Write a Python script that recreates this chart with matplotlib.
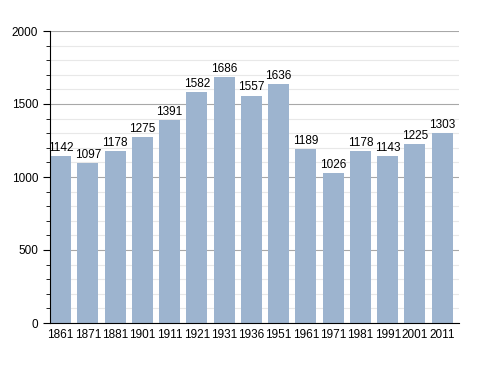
import matplotlib
matplotlib.use('Agg')
import matplotlib.pyplot as plt
import numpy as np

years = ['1861', '1871', '1881', '1901', '1911', '1921', '1931', '1936',
         '1951', '1961', '1971', '1981', '1991', '2001', '2011']
population = [1142, 1097, 1178, 1275, 1391, 1582, 1686, 1557,
              1636, 1189, 1026, 1178, 1143, 1225, 1303]

plt.rcParams['font.family'] = 'Liberation Sans'

fig = plt.figure(figsize=(4.88, 3.73), dpi=100)
ax = fig.add_axes([50/488, 1-323/373, 409/488, 292/373])

x = np.arange(len(years))
w = 0.77
ax.bar(x, population, width=w, align='edge', color='#9db4cf', zorder=2)
for xi, v in zip(x, population):
    ax.text(xi + w/2, v + 15, str(v), ha='center', va='bottom', fontsize=8.5, zorder=3)

ax.set_xlim(0, 15)
ax.set_ylim(0, 2000)
ax.set_xticks(x + w/2)
ax.set_xticklabels(years, fontsize=8.5)
ax.set_yticks([0, 500, 1000, 1500, 2000])
ax.set_yticks(np.arange(0, 2001, 100), minor=True)
ax.tick_params(axis='y', labelsize=8.5, length=5, which='major')
ax.tick_params(axis='y', length=3, which='minor')
ax.tick_params(axis='x', length=0, pad=4)
ax.grid(axis='y', which='major', color='#a8a8a8', linewidth=0.8, zorder=1)
ax.grid(axis='y', which='minor', color='#e8e8e8', linewidth=0.8, zorder=0)
for s in ['top', 'right']:
    ax.spines[s].set_visible(False)

fig.savefig('out.png', dpi=100)
